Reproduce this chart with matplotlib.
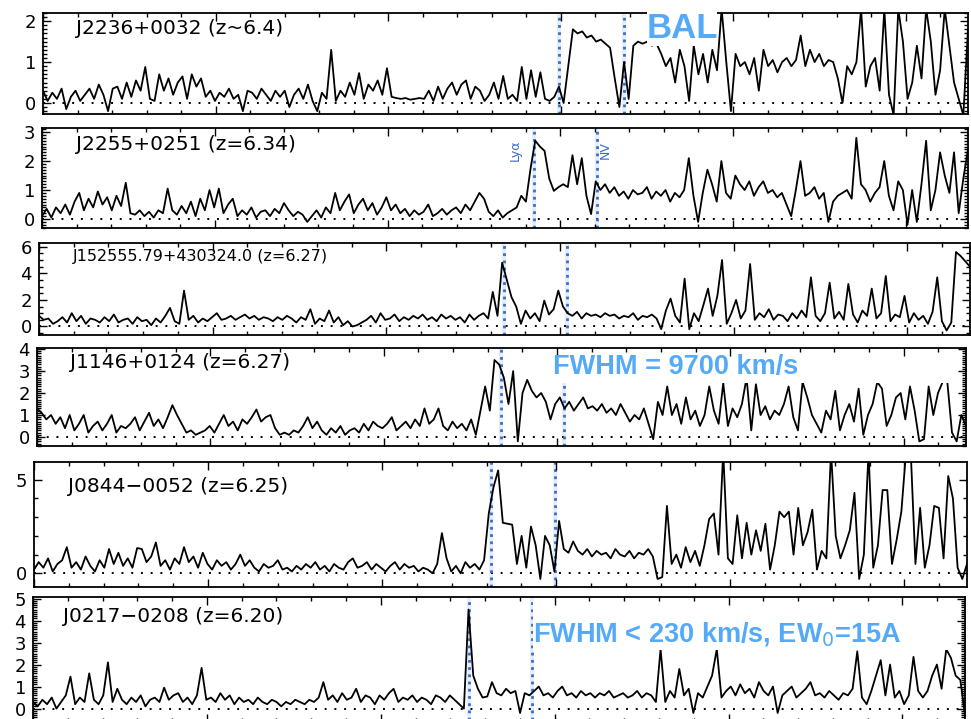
import numpy as np
import matplotlib
matplotlib.use("Agg")
import matplotlib.pyplot as plt
from matplotlib.patches import Rectangle
from matplotlib.ticker import MultipleLocator

# figure size in pixels (dpi 100)
W, H = 971, 719

# observed wavelength range (Angstrom) and rest wavelengths of the two lines
lam_min, lam_max = 7500, 10180
lya_rest, nv_rest = 1215.67, 1240.81

names = ['J2236+0032 (z~6.4)', 'J2255+0251 (z=6.34)', 'J152555.79+430324.0 (z=6.27)',
         'J1146+0124 (z=6.27)', 'J0844\u22120052 (z=6.25)', 'J0217\u22120208 (z=6.20)']
redshifts = [6.4, 6.34, 6.27, 6.27, 6.25, 6.20]

flux_j2236 = [0.3, 0.05, 0.25, 0.1, 0.35, -0.15, 0.15, 0.3, 0.05, 0.2, 0.35,
              0.1, 0.45, 0.2, -0.2, 0.35, 0.4, 0.1, 0.5, 0.15, 0.55, 0.3, 0.88,
              0.1, 0.05, 0.7, 0.3, 0.6, 0.2, 0.5, 0.65, 0.1, 0.7, 0.4, 0.6, 0.15,
              0.3, 0.05, 0.25, 0.15, 0.35, 0.1, 0.2, -0.2, 0.3, 0.25, 0.1, 0.35, 0.2, 0.05, 0.3,
              0.15, 0.3, -0.1, 0.2, 0.35, 0.1, 0.45, 0.05, -0.2, 0.25, 0.1,
              1.3, 0.05, 0.3, 0.15, 0.5, 0.2, 0.73, 0.1, 0.45, 0.3, 0.55, 0.2, 0.85, 0.15,
              0.12, 0.1, 0.12, 0.08, 0.1, 0.12, 0.1,
              0.3, 0.05, 0.4, 0.1, 0.35, 0.5, 0.2, 0.45, 0.55, 0.1, 0.4, 0.3, 0.05,
              0.2, 0.5, 0.1, 0.66, 0.1, 0.2, 0.05, 0.88, 0.1, 0.8, 0.15, 0.75, 0.1, 0.05, 0.15, 0.4,
              0.0, 0.9, 1.8, 1.7, 1.75, 1.6, 1.65, 1.5, 1.55, 1.45, 1.35, 0.6, -0.1, 1.0, 0.1,
              1.4, 1.5, 1.45, 1.5, 1.4, 1.45,
              1.2, 0.9, 1.1, 0.5, 1.3, 0.9, 0.05, 1.4, 0.7, 1.2, 0.5, 1.3, 0.8, 2.3, 1.0,
              -0.2, 1.2, 0.9, 1.0, 0.7, 1.1, 0.3, 1.3, 0.9, 1.05, 0.75, 1.0, 1.1, 0.9, 1.05,
              1.65, 0.9, 1.3, 1.0, 1.2, 0.9, 1.05, 1.0, 0.6, 0.0, 0.9, 0.7, 1.0,
              2.3, 0.4, 0.9, 1.1, 0.3, 2.3, 0.2, -0.3, 2.3, 1.5, 0.1, 0.5, 1.4, 0.6, 2.3, 1.5,
              0.2, 0.8, 2.3, 1.4, 0.5, 0.1, -0.3, 1.8]
flux_j2255 = [0.1, 0.35, 0.05, 0.4, 0.2, 0.5, 0.15, 0.6, 0.9, 0.3,
              0.7, 0.4, 0.95, 0.5, 0.75, 0.3, 0.8, 0.45, 1.25, 0.2,
              0.15, 0.3, 0.1, 0.25, 0.05, 0.3, 0.2, 1.05, 0.3, 0.15,
              0.45, 0.2, 0.6, 0.1, 0.7, 0.3, 1.0, 0.4, 1.05, 0.2,
              0.5, 0.7, 0.1, 0.3, 0.15, 0.4, 0.05, 0.25, 0.3, 0.1,
              0.35, 0.2, 0.55, 0.3, 0.1, 0.25, 0.15, -0.1, 0.1, 0.3,
              0.05, 0.4, 0.2, 0.9, 0.3, 0.6, 0.85, 0.2, 0.5, 0.7,
              0.3, 0.55, 0.15, 0.4, 0.75, 0.3, 0.5, 0.2, 0.35, 0.1,
              0.3, 0.15, 0.25, 0.5, 0.1, 0.2, 0.35, 0.15, 0.3, 0.4,
              0.2, 0.5, 0.3, 0.6, 0.9, 0.7, 0.25, 0.1, 0.3, 0.05,
              0.2, 0.3, 0.4, 0.8, 0.6, 1.75, 2.7, 2.5, 2.35, 1.4,
              0.97, 1.1, 1.2, 1.1, 2.2, 1.2, 2.1, 0.8, 0.17, 1.3,
              1.0, 1.2, 0.9, 1.1, 0.8, 0.95, 0.7, 1.0, 0.85, 0.9,
              1.1, 0.7, 0.95, 0.8, 1.0, 0.6, 0.9, 0.75, 1.0, 2.1,
              0.8, -0.1, 0.9, 1.7, 1.2, 0.6, 2.0, 0.9, 0.7, 1.5,
              1.2, 1.0, 1.3, 0.8, 1.1, 1.3, 0.9, 1.0, 0.75, 0.9,
              0.5, 0.1, 1.0, 2.0, 0.8, 0.9, 1.1, 0.7, 0.9, -0.1,
              0.6, 0.8, 0.9, 1.0, 0.7, 2.8, 1.2, 1.0, 0.6, 0.9,
              1.1, 2.0, 0.8, 0.3, 1.3, 1.0, -0.2, 1.0, -0.1, 1.2,
              2.7, 0.3, 1.0, 2.3, 1.5, 0.9, 2.3, 0.2, 1.4, 2.4]
flux_j1525 = [0.8, 0.5, 0.6, 0.2, 0.4, 0.7, 0.3, 1.0, 0.4, 0.8,
              0.2, 0.6, 0.5, 0.3, 0.7, 0.4, 0.9, 0.3, 0.5, 0.6,
              0.2, 0.7, 0.4, 0.5, 0.1, 0.6, 0.3, 0.8, 1.4, 0.4,
              0.2, 2.7, 0.5, 0.8, 0.3, 0.6, 0.4, 0.7, 1.0, 0.5,
              0.6, 0.8, 0.5, 0.7, 0.9, 0.6, 0.8, 0.5, 0.7, 0.6,
              0.4, 0.7, 0.5, 0.8, 0.6, 0.3, 0.7, 0.5, 1.3, 0.2,
              0.6, 0.4, 1.2, 0.3, 0.7, 0.1, 0.4, 0.0, 0.1, 0.3,
              0.5, 0.8, 0.3, 1.0, 0.5, 0.6, 0.9, 0.4, 0.7, 0.5,
              0.8, 0.6, 0.9, 0.5, 0.7, 0.4, 0.9, 0.6, 0.8, 0.5,
              0.7, 0.3, 0.9, 0.5, 0.8, 1.0, 0.6, 2.6, 0.8, 4.8,
              3.5, 2.2, 1.5, 0.2, 1.2, 0.6, 1.0, 0.4, 1.95, 0.9,
              1.3, 2.7, 1.5, 1.0, 0.8, 1.1, 0.6, 1.0, 0.8, 0.9,
              0.7, 1.0, 0.8, 0.9, 0.6, 0.8, 0.7, 1.0, 0.5, 0.8,
              0.7, 0.9, 0.6, -0.2, 1.2, 2.1, 0.8, 0.3, 3.6, -0.2,
              1.0, 0.4, 1.6, 2.85, 0.8, 2.3, 5.0, 0.2, 1.0, 2.0,
              0.6, 1.2, 4.7, 0.5, 1.0, 0.7, 1.3, 0.5, 0.9, 0.8,
              0.4, 1.0, 0.6, 1.2, 0.7, 3.7, 0.8, 0.4, 1.0, 3.3,
              0.6, 1.1, 0.5, 3.2, 0.9, 0.3, 1.2, 0.8, 2.85, 0.6,
              1.0, 3.8, 0.4, 0.9, 0.7, 2.3, 0.3, 1.0, 0.5, 0.8,
              0.2, 1.1, 3.7, 0.4, -0.3, 0.3, 5.6, 5.3, 4.9, 4.5]
flux_j1146 = [1.3, 1.1, 0.8, 1.0, 0.6, 0.9, 0.4, 1.0, 0.3, 0.6,
              1.0, 0.2, 0.5, 0.7, 0.3, 0.6, 1.0, 0.2, 0.5, 0.4,
              0.6, 0.9, 0.3, 0.7, 1.1, 0.5, 0.8, 0.4, 0.9, 1.45,
              1.0, 0.6, 0.2, 0.3, 0.1, 0.2, 0.3, 0.5, 0.2, 0.6,
              1.0, 0.5, 0.7, 0.3, 0.8, 0.6, 0.9, 1.25, 0.7, 0.9,
              1.0, 0.4, 0.1, 0.2, 0.1, 0.3, 0.2, 0.5, 0.9, 0.4,
              0.7, 0.3, 0.1, 0.4, 0.2, 0.5, 0.1, 0.3, 0.4, 0.2,
              0.6, 0.3, 0.7, 0.5, 0.4, 0.6, 0.9, 0.3, 0.5, 0.7,
              0.4, 0.8, 0.5, 1.3, 0.6, 0.8, 1.3, 0.5, 0.3, 0.7,
              0.4, 0.6, 0.3, 0.8, 0.1, 1.2, 2.3, 1.2, 3.5, 3.3,
              2.7, 1.5, 3.0, -0.2, 2.0, 2.6, 2.1, 1.8, 2.0, 1.6,
              0.8, 1.5, 1.8, 1.3, 1.6, 1.2, 1.5, 1.8, 1.3, 1.4,
              1.2, 1.5, 1.1, 1.3, 1.0, 1.5, 1.1, 0.7, 1.0, 0.8,
              1.3, 0.6, -0.1, 1.6, 1.0, 2.3, 1.0, 1.5, 0.6, 1.8,
              0.8, 1.2, 0.5, 1.0, 2.3, 1.2, 0.6, 2.45, 0.5, 1.3,
              0.9, 1.5, 2.7, 0.3, 2.4, 1.0, 1.4, 0.8, 1.2, 1.0,
              1.5, 2.3, 0.9, 0.3, 2.5, 1.8, 1.0, 0.6, 0.2, 1.2,
              0.8, 2.1, 0.3, 1.0, 1.5, 0.7, 2.2, 0.1, 1.0, 1.5,
              2.5, 2.2, 0.5, 1.0, 1.8, 2.0, 0.8, 2.3, 1.2, -0.2,
              -0.1, 2.3, 1.0, 2.0, 2.5, 2.5, 0.2, -0.2, 1.0, 0.5]
flux_j0844 = [0.2, 0.6, 0.3, 0.8, 0.1, 0.5, 0.7, 1.4, 0.3, 0.6,
              0.2, 0.9, 0.4, 0.1, 0.7, 0.3, 1.3, 0.5, 1.1, 0.4,
              0.8, 0.3, 1.35, 1.3, 0.6, 0.9, 1.65, 0.4, 0.7, 0.2,
              0.8, 0.5, 1.4, 0.6, 0.9, 0.3, 1.1, 0.5, 0.2, 0.7,
              0.4, 0.6, 0.2, 0.5, 1.0, 0.4, 0.7, 0.3, 0.1, 0.5,
              0.3, 0.4, 0.7, 0.2, 0.3, 0.1, 0.4, 0.2, 0.5, 0.3,
              0.6, 0.2, 0.4, 0.1, 0.5, 0.3, 0.2, 0.6, 0.8, 0.3,
              0.4, 0.6, 0.2, 0.5, 0.3, 0.1, 0.4, 0.6, 0.2, 0.5,
              0.3, 0.4, 0.1, 0.3, 0.2, 0.0, 0.5, 2.15, 0.8, 0.1,
              0.4, 0.0, 0.6, 0.3, 0.5, 0.2, 0.7, 3.2, 4.6, 5.5,
              2.7, 2.65, 2.6, 0.5, 2.0, 0.3, 2.5, 1.5, -0.3, 2.0,
              1.5, 0.1, 2.8, 1.3, 1.1, 1.7, 1.2, 1.0, 1.3, 0.9,
              1.2, 1.0, 1.1, 0.8, 1.3, 1.0, 0.9, 1.2, 0.8, 1.1,
              1.0, 1.3, 0.9, -0.3, -0.2, 3.6, 0.5, 1.0, 0.3, 1.4,
              0.6, 1.2, 0.4, 1.5, 2.9, 3.2, 1.0, 6.5, 0.8, 0.5,
              3.1, 0.8, 2.7, 1.0, 2.3, 1.2, 2.65, 0.2, 1.5, 3.3,
              3.0, 3.3, 1.0, 3.5, 1.5, 2.2, 3.4, 0.2, 1.2, 0.8,
              6.5, 2.0, 0.8, 1.5, 2.3, 4.3, -0.3, 1.0, 6.5, 0.3,
              1.5, 4.45, 4.45, 0.5, 1.8, 3.3, 6.5, 6.5, 0.5, 3.5,
              0.3, 1.5, 3.6, 3.5, 0.8, 5.2, 4.0, 0.3, -0.3, 0.5]
flux_j0217 = [0.3, 0.1, 0.4, 0.2, 0.5, 0.0, 0.3, 0.6, 1.45, 0.2,
              0.5, 0.3, 1.6, 0.4, 0.2, 0.6, 2.1, 0.3, 0.9, 0.4,
              0.2, 0.5, 0.3, 0.6, 0.1, 0.4, 0.5, 0.3, 0.95, 0.4,
              0.6, 0.7, 0.3, 0.5, 0.2, 0.6, 1.85, 0.4, 0.5, 0.3,
              0.7, 0.4, 0.6, 0.2, 0.5, 0.3, 0.4, 0.2, 0.5, 0.3,
              0.2, 0.4, 0.3, 0.1, 0.3, 0.2, 0.4, 0.3, 0.2, 0.4,
              0.3, 0.5, 1.2, 0.4, 0.6, 0.3, 0.7, 0.4, 0.5, 0.9,
              0.3, 0.6, 0.5, 0.2, 0.6, 0.4, 0.7, 0.9, 0.3, 0.5,
              0.4, 0.6, 0.3, 0.5, 0.4, 0.2, 0.6, 0.5, 0.3, 0.6,
              0.4, 0.2, 0.0, 4.5, 1.5, 0.9, 0.5, 0.55, 1.2, 0.7,
              0.6, 0.9, 0.7, 0.8, -0.2, 0.7, 0.6, 0.8, 1.0, 0.6,
              0.7, 0.5, 0.8, 1.0, 0.6, 0.7, 0.5, 0.8, 0.6, 0.7,
              0.5, 0.7, 0.6, 0.8, 0.5, 0.6, 0.7, 0.5, 0.6, 0.8,
              0.5, 0.7, 0.6, 0.3, 2.7, 0.3, 0.8, 0.5, 1.8, 0.6,
              0.9, -0.2, 0.7, 0.5, 1.0, 1.5, 2.7, 0.5, 0.8, 1.0,
              0.6, 1.1, 0.7, 0.9, 0.5, 1.2, 0.8, 0.6, 1.0, -0.2,
              0.6, 0.8, 1.0, 0.5, 0.7, 0.9, 1.2, 0.6, 0.7, 0.5,
              0.8, 0.6, 0.4, 0.7, 0.6, 0.9, 2.6, 0.5, 0.2, 0.8,
              1.5, 2.2, 0.6, 2.0, 0.5, 0.8, 0.2, 0.6, 2.35, 0.8,
              0.5, 0.8, 1.5, 2.0, 0.9, 2.7, 2.3, 1.5, 1.3, -0.3]
spectra = [flux_j2236, flux_j2255, flux_j1525, flux_j1146, flux_j0844, flux_j0217]

# panel layout: pixel box (left, top, right, bottom), y range, tick steps, label size
boxes = [(43, 13, 968, 114), (42, 128, 968, 228), (39, 243, 970, 335),
         (37, 348, 966, 446), (34, 462, 967, 587), (33, 597, 965, 722)]
ylims = [(-0.27, 2.2), (-0.31, 3.14), (-0.64, 6.28), (-0.41, 4.05), (-0.73, 5.95), (-0.61, 5.07)]
ymajor = [1, 1, 2, 1, 5, 1]
yminor = [0.1, 0.1, 0.5, 0.1, 1, 0.1]
name_pos = [(76, 29), (76, 144), (73, 257), (70, 363), (68, 486), (63, 616)]
name_size = [14.5, 14.5, 11.5, 14.5, 14.5, 14.5]

BLUE_TXT = '#55aaf8'
BLUE_LINE = '#3b6cc8'


def px_fig(x, y):
    return x / W, 1 - y / H


def white_box(ax, left, top, right, bottom, z):
    # white patch given in figure pixels
    bx, by = px_fig(left, bottom)
    ax.add_patch(Rectangle((bx, by), (right - left) / W, (bottom - top) / H,
                           transform=fig.transFigure, facecolor='white',
                           edgecolor='none', zorder=z, clip_on=False))


fig = plt.figure(figsize=(W / 100, H / 100), dpi=100)

for k in range(6):
    l, t, r, b = boxes[k]
    x0, y1 = px_fig(l, t)
    x1, y0 = px_fig(r, b)
    ax = fig.add_axes([x0, y0, x1 - x0, y1 - y0])
    ax.set_axisbelow(False)

    flux = np.array(spectra[k])
    wave = np.linspace(lam_min, lam_max, len(flux))
    ax.plot(wave, flux, color='black', lw=1.3, zorder=2)
    ax.axhline(0, color='black', ls=(0, (1, 4)), lw=1.4, zorder=1.8)

    z = redshifts[k]
    for rest in (lya_rest, nv_rest):
        ax.axvline(rest * (1 + z), color='#e4eefa', lw=3, zorder=1.5)
        ax.axvline(rest * (1 + z), color=BLUE_LINE, ls=(0, (1, 1.6)), lw=2, zorder=1.9)

    ax.set_xlim(lam_min, lam_max)
    ax.set_ylim(*ylims[k])
    ax.xaxis.set_major_locator(MultipleLocator(500))
    ax.xaxis.set_minor_locator(MultipleLocator(100))
    ax.yaxis.set_major_locator(MultipleLocator(ymajor[k]))
    ax.yaxis.set_minor_locator(MultipleLocator(yminor[k]))
    ax.tick_params(which='both', direction='in', top=True, right=True, width=1.0)
    ax.tick_params(which='major', length=6, labelsize=13, pad=5)
    ax.tick_params(which='minor', length=3)
    ax.tick_params(axis='x', labelbottom=False)
    if k == 4:
        ax.set_yticks([0, 5])
    for s in ax.spines.values():
        s.set_linewidth(1.3)

    nx, ny = px_fig(*name_pos[k])
    fig.text(nx, ny, names[k], fontsize=name_size[k], ha='left', va='center')

    if k == 0:
        white_box(ax, 647, 10, 717, 46, 3)
        tx, ty = px_fig(682, 28)
        fig.text(tx, ty, 'BAL', color=BLUE_TXT, fontsize=25, fontweight='bold',
                 family='Liberation Sans', ha='center', va='center', zorder=5)
    if k == 1:
        lx, ly = px_fig(515, 150)
        fig.text(lx, ly, 'Ly\u03b1', color=BLUE_LINE, fontsize=9, rotation=90,
                 ha='center', va='center')
        lx, ly = px_fig(605, 150)
        fig.text(lx, ly, 'NV', color=BLUE_LINE, fontsize=9, rotation=90,
                 ha='center', va='center')
    if k == 3:
        white_box(ax, 540, 350, 964, 383, 2.2)
        tx, ty = px_fig(553, 367)
        fig.text(tx, ty, 'FWHM = 9700 km/s', color=BLUE_TXT, fontsize=19.5, fontweight='bold',
                 family='Liberation Sans', ha='left', va='center', zorder=5)
    if k == 5:
        white_box(ax, 533, 599, 963, 650, 2.2)
        tx, ty = px_fig(533, 634)
        fig.text(tx, ty, 'FWHM < 230 km/s, EW$_0$=15A', color=BLUE_TXT, fontsize=19.5,
                 fontweight='bold', family='Liberation Sans', ha='left', va='center', zorder=5)

fig.savefig('out.png', dpi=100, facecolor='white')
